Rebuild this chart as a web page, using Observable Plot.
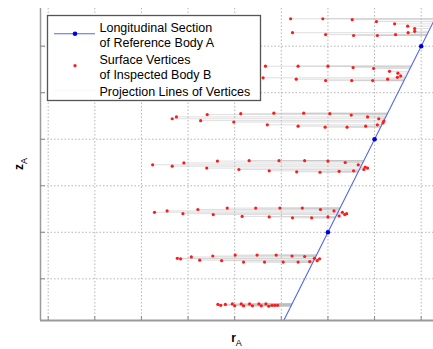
<!DOCTYPE html>
<html><head><meta charset="utf-8">
<script src="https://cdn.jsdelivr.net/npm/d3@7"></script>
<script src="https://cdn.jsdelivr.net/npm/@observablehq/plot@0.6"></script>
<style>
html,body{margin:0;padding:0;background:#fff;}
#chart svg{display:block;}
</style></head><body><div id="chart"></div>
<script>
// Reference body A: longitudinal section (r, z)
const refR = [5, 6, 7, 8, 8.5];
const refZ = [0, 2, 4, 6, 7];
// Surface vertices of inspected body B
const vertexR = [
 5.20,5.89,6.52,7.04,7.43,7.71,7.86,7.86,7.72,7.45,7.06,6.55,5.95,5.24,
 4.66,5.36,6.00,6.54,6.98,7.32,7.50,7.56,7.49,7.28,6.96,6.51,5.95,5.32,4.61,
 2.66,2.75,3.41,4.13,4.84,5.48,6.04,6.50,6.85,7.09,7.20,7.18,7.06,6.81,6.41,5.94,5.36,4.70,3.98,3.27,
 2.24,2.66,2.91,3.40,3.63,4.09,4.31,4.74,4.95,5.33,5.50,5.83,6.00,6.24,6.37,6.55,6.65,6.77,6.80,6.85,
 2.28,2.55,2.89,3.21,3.54,3.84,4.16,4.45,4.74,4.97,5.24,5.45,5.65,5.84,6.00,6.13,6.24,6.31,6.36,6.40,
 2.77,2.84,3.07,3.25,3.53,3.72,4.01,4.19,4.48,4.64,4.89,5.04,5.23,5.36,5.50,5.61,5.71,5.77,5.82,
 3.64,3.70,3.80,3.95,4.00,4.14,4.19,4.32,4.38,4.52,4.57,4.67,4.73,4.80,4.86,4.92
];
const vertexZ = [
 6.59,6.59,6.57,6.53,6.48,6.43,6.38,6.32,6.29,6.25,6.23,6.23,6.25,6.29,
 5.57,5.57,5.57,5.54,5.52,5.46,5.42,5.36,5.33,5.29,5.26,5.26,5.26,5.29,5.32,
 4.44,4.48,4.53,4.55,4.56,4.56,4.55,4.52,4.48,4.44,4.39,4.35,4.31,4.28,4.26,4.26,4.28,4.31,4.37,4.40,
 3.45,3.42,3.49,3.38,3.53,3.35,3.54,3.32,3.54,3.30,3.54,3.29,3.53,3.31,3.50,3.32,3.45,3.35,3.40,3.38,
 2.43,2.46,2.40,2.49,2.38,2.52,2.34,2.52,2.33,2.52,2.31,2.52,2.31,2.49,2.33,2.46,2.35,2.43,2.38,2.40,
 1.44,1.43,1.47,1.40,1.49,1.39,1.51,1.36,1.51,1.36,1.51,1.36,1.49,1.36,1.48,1.37,1.44,1.39,1.43,
 0.45,0.43,0.45,0.46,0.42,0.46,0.42,0.46,0.42,0.46,0.42,0.46,0.41,0.43,0.43,0.43
];
const gridR = [0, 1, 2, 3, 4, 5, 6, 7, 8];
const gridZ = [1, 2, 3, 4, 5, 6];
const rDomain = [-0.165, 8.264];
const zDomain = [0.104, 6.81];
const legendLines = ["Longitudinal Section", "of Reference Body A", "Surface Vertices", "of Inspected Body B", "Projection Lines of Vertices"];
const xLabel = ["r", "A"];
const yLabel = ["z", "A"];

const refAt = d3.scaleLinear().domain(refZ).range(refR);
const vertices = vertexR.map((r, i) => ({r, z: vertexZ[i]}));
const ref = refR.map((r, i) => ({r, z: refZ[i]}));

const W = 433, H = 349, mL = 40, mR = 0, mT = 8, mB = 29;
const chart = Plot.plot({
  width: W, height: H, marginLeft: mL, marginRight: mR, marginTop: mT, marginBottom: mB,
  x: {domain: rDomain, axis: null},
  y: {domain: zDomain, axis: null},
  style: {background: "#fff", fontFamily: "'Liberation Sans', Arial, sans-serif"},
  marks: [
    Plot.ruleX(gridR, {x: d => d, stroke: "#b5b5b5", strokeDasharray: "1.5,2"}),
    Plot.ruleY(gridZ, {y: d => d, stroke: "#b5b5b5", strokeDasharray: "1.5,2"}),
    Plot.link(vertices, {x1: "r", y1: "z", x2: d => refAt(d.z), y2: "z", stroke: "#c0c0c0", strokeOpacity: 0.5, clip: true}),
    Plot.line(ref, {x: "r", y: "z", stroke: "#5566ee", strokeWidth: 1.1, clip: true}),
    Plot.dot(ref, {x: "r", y: "z", r: 2.3, fill: "#0000e0", clip: true}),
    Plot.dot(vertices, {x: "r", y: "z", r: 1.6, fill: "#ff1a1a"}),
    Plot.ruleX([rDomain[0]], {stroke: "#9a9a9a", strokeWidth: 1.5}),
    Plot.ruleY([zDomain[0]], {stroke: "#9a9a9a", strokeWidth: 2}),
    Plot.tickX(gridR, {x: d => d, stroke: "#888", insetTop: H - mT - mB - 4}),
    Plot.tickY(gridZ, {y: d => d, stroke: "#888", insetRight: W - mL - mR - 5})
  ]
});
document.getElementById("chart").appendChild(chart);

const svg = d3.select(chart);
const font = "'Liberation Sans', Arial, sans-serif";
// Legend
const lg = svg.append("g").attr("text-anchor", "start");
lg.append("rect").attr("x", 47.5).attr("y", 15.5).attr("width", 213).attr("height", 85)
  .attr("fill", "#fff").attr("stroke", "#555").attr("stroke-width", 1.3);
lg.append("line").attr("x1", 54).attr("x2", 95).attr("y1", 33.7).attr("y2", 33.7)
  .attr("stroke", "#5566ee").attr("stroke-width", 1.1);
lg.append("circle").attr("cx", 75).attr("cy", 33.7).attr("r", 2.3).attr("fill", "#0000e0");
lg.append("circle").attr("cx", 75).attr("cy", 65.7).attr("r", 1.6).attr("fill", "#ff1a1a");
lg.append("line").attr("x1", 54).attr("x2", 95).attr("y1", 90.7).attr("y2", 90.7)
  .attr("stroke", "#c0c0c0").attr("stroke-opacity", 0.15);
const baselines = [31.5, 46.5, 64.3, 79, 95.5];
legendLines.forEach((t, i) => {
  lg.append("text").attr("x", 99.5).attr("y", baselines[i]).attr("font-size", 12.5)
    .attr("text-anchor", "start")
    .attr("font-family", font).attr("fill", "#000").text(t);
});
// Axis labels
const xl = svg.append("text").attr("x", 236.5).attr("y", 342).attr("text-anchor", "middle")
  .attr("font-family", font).attr("fill", "#000");
xl.append("tspan").attr("font-size", 12).attr("font-weight", "bold").text(xLabel[0]);
xl.append("tspan").attr("font-size", 9).attr("dy", 4).text(xLabel[1]);
const yl = svg.append("text").attr("transform", "translate(23,164) rotate(-90)").attr("text-anchor", "middle")
  .attr("font-family", font).attr("fill", "#000");
yl.append("tspan").attr("font-size", 12).attr("font-weight", "bold").text(yLabel[0]);
yl.append("tspan").attr("font-size", 9).attr("dy", 4).text(yLabel[1]);
</script></body></html>
